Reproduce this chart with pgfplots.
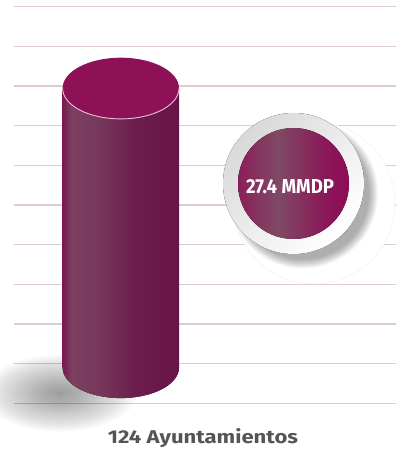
\documentclass[border=0pt]{standalone}
\usepackage{graphicx}
\usepackage{fontspec}
\setmainfont{Fira Sans}
\usepackage{pgfplots}
\pgfplotsset{compat=1.18}

\definecolor{gridc}{RGB}{221,203,213}
\definecolor{topface}{RGB}{142,16,86}
\definecolor{rimc}{RGB}{236,192,214}
\definecolor{labelc}{RGB}{85,85,85}
\definecolor{cylA}{RGB}{120,26,80}
\definecolor{cylB}{RGB}{124,64,96}
\definecolor{cylC}{RGB}{118,56,91}
\definecolor{cylD}{RGB}{108,28,77}
\definecolor{cylE}{RGB}{104,20,72}
\definecolor{badA}{RGB}{140,30,90}
\definecolor{badB}{RGB}{127,74,100}
\definecolor{badC}{RGB}{138,24,88}
\definecolor{badD}{RGB}{142,12,88}

% side of the cylinder: stops inside the central 25bp--75bp band
\pgfdeclarehorizontalshading{cylside}{100bp}{%
  color(0bp)=(cylA); color(25bp)=(cylA); color(29bp)=(cylB);
  color(40bp)=(cylC); color(57bp)=(cylD); color(75bp)=(cylE);
  color(100bp)=(cylE)}
\pgfdeclarehorizontalshading{badge}{100bp}{%
  color(0bp)=(badA); color(25bp)=(badA); color(43bp)=(badB);
  color(64bp)=(badC); color(75bp)=(badD); color(100bp)=(badD)}

% municipalities (bar height)
\def\cylx{120.8}
\def\cyltop{124}

\begin{document}
\begin{tikzpicture}
\begin{axis}[
  at={(0,0)}, anchor=south west,
  scale only axis, width=396pt, height=452pt,
  xmin=0, xmax=396, ymin=-37.53, ymax=163.22,
  axis lines=none, ticks=none, clip=false]

% horizontal guide lines
\pgfplotsinvokeforeach{160.24,142.63,125.01,107.40,89.79,72.17,54.56,36.94,19.33,1.71,-15.90}{
  \addplot[gridc, line width=1.1pt, forget plot] coordinates {(14,#1) (396,#1)};
}

% soft shadow at the foot of the cylinder
\pgfplotsinvokeforeach{1,...,24}{
  \fill[black, opacity=0.018] (axis cs:60,-11.5)
    ellipse [x radius={#1*3.2pt}, y radius={#1*1.6pt}];
}

% badge backdrop and its shadow
\fill[white] (axis cs:314,73.06) circle [radius=81pt];
\draw[black!5, line width=0.5pt] (axis cs:314,73.06) circle [radius=81pt];
\pgfplotsinvokeforeach{0,...,9}{
  \fill[black, opacity=0.035] (axis cs:303,77.3) circle [radius={66pt+#1*1.0pt}];
}

% cylinder
\fill[shading=cylside] (axis cs:\cylx,0) ellipse [x radius=58.2pt, y radius=30.6pt];
\addplot[ybar, bar width=116.4, draw=none, shading=cylside, forget plot]
  coordinates {(\cylx,\cyltop)};
\fill[topface] (axis cs:\cylx,\cyltop) ellipse [x radius=58.2pt, y radius=30.6pt];
\draw[rimc, line width=0.9pt] (axis cs:\cylx,\cyltop) ++(-58.2pt,0pt)
  arc [start angle=180, end angle=360, x radius=58.2pt, y radius=30.6pt];

% badge
\fill[top color=black!15, bottom color=white, shading angle=45]
  (axis cs:293.5,81.72) circle [radius=70.5pt];
\fill[shading=badge] (axis cs:293.5,81.72) circle [radius=55.5pt];
\node[anchor=base, text=white, inner sep=0pt] at (axis cs:290,77.37)
  {\resizebox{88pt}{14pt}{\bfseries 27.4 MMDP}};

% category label
\node[anchor=base, text=labelc, inner sep=0pt] at (axis cs:203,-33.66)
  {\resizebox{190pt}{15pt}{\bfseries 124 Ayuntamientos}};
\end{axis}
\pgfresetboundingbox
\useasboundingbox (0,0) rectangle (396pt,452pt);
\end{tikzpicture}
\end{document}
